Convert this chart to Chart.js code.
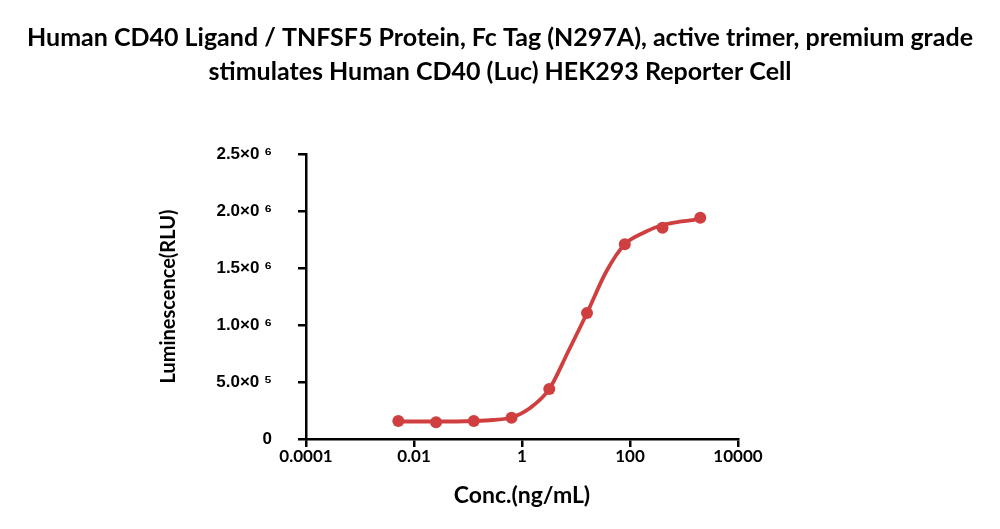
<!DOCTYPE html>
<html><head><meta charset="utf-8">
<script src="https://cdn.jsdelivr.net/npm/chart.js@4/dist/chart.umd.min.js"></script>
<style>html,body{margin:0;padding:0;background:#fff}#wrap{width:1000px;height:529px}</style>
</head><body><div id="wrap"><canvas id="c" width="1000" height="529"></canvas></div>
<script>
// measured points (ng/mL, RLU)
const concentrations = [0.00512, 0.0256, 0.128, 0.64, 3.2, 16, 80, 400, 2000];
const luminescence = [158000, 146000, 158000, 187000, 439000, 1105000, 1708000, 1853000, 1941000];
// fitted curve
const fitConc = [0.00512, 0.0256, 0.128, 0.29, 0.64, 1.41, 3.2, 7.1, 16, 36, 80, 190, 400, 906, 2000];
const fitLum = [153500, 153500, 158000, 166700, 188600, 272000, 438600, 763000, 1105000, 1465000, 1708000, 1816000, 1877000, 1908000, 1930000];
const xTickValues = [0.0001, 0.01, 1, 100, 10000];
const xTickLabels = ['0.0001', '0.01', '1', '100', '10000'];
const yTickValues = [0, 500000, 1000000, 1500000, 2000000, 2500000];
const yTickLabels = ['0', '5.0×0 ⁵', '1.0×0 ⁶', '1.5×0 ⁶', '2.0×0 ⁶', '2.5×0 ⁶'];
const titleLines = ['Human CD40 Ligand / TNFSF5 Protein, Fc Tag (N297A), active trimer, premium grade', 'stimulates Human CD40 (Luc) HEK293 Reporter Cell'];
const xTitle = 'Conc.(ng/mL)';
const yTitle = 'Luminescence(RLU)';

const RED = '#d03f3f';
const pts = concentrations.map((c, i) => ({x: c, y: luminescence[i]}));
const fit = fitConc.map((c, i) => ({x: c, y: fitLum[i]}));

new Chart(document.getElementById('c'), {
  type: 'scatter',
  data: {
    datasets: [
      {data: fit, showLine: true, borderColor: RED, borderWidth: 3.8, pointRadius: 0, cubicInterpolationMode: 'monotone', fill: false},
      {data: pts, showLine: false, backgroundColor: RED, borderColor: RED, pointRadius: 6, pointBorderWidth: 0}
    ]
  },
  options: {
    responsive: false, animation: false, devicePixelRatio: 1,
    layout: {padding: 0},
    plugins: {
      legend: {display: false}, tooltip: {enabled: false},
      title: {display: true, text: titleLines, color: '#000',
        font: {family: 'Lato', weight: 'bold', size: 25, lineHeight: 1.36},
        padding: {top: 21, bottom: 65}}
    },
    scales: {
      x: {
        type: 'logarithmic', min: 0.0001, max: 10000,
        afterBuildTicks: s => { s.ticks = xTickValues.map(v => ({value: v})); },
        afterFit: s => { s.height = 90; },
        ticks: {callback: (v, i) => xTickLabels[i], color: '#000', padding: -1,
          font: {family: 'Lato', weight: 'bold', size: 17}, maxRotation: 0, autoSkip: false},
        grid: {drawOnChartArea: false, drawTicks: true, tickLength: 8, color: '#000', lineWidth: 2.5},
        border: {display: true, color: '#000', width: 2.5},
        title: {display: true, text: xTitle, color: '#000',
          font: {family: 'Lato', weight: 'bold', size: 23}, padding: {top: 0, bottom: 19.2}}
      },
      y: {
        type: 'linear', min: 0, max: 2500000,
        afterBuildTicks: s => { s.ticks = yTickValues.map(v => ({value: v})); },
        afterFit: s => { s.width = 306; },
        ticks: {callback: (v, i) => yTickLabels[i], color: '#000', padding: 26,
          font: {family: 'Liberation Sans', weight: 'bold', size: 17}},
        grid: {drawOnChartArea: false, drawTicks: true, tickLength: 8, color: '#000', lineWidth: 2.5},
        border: {display: true, color: '#000', width: 2.5},
        title: {display: true, text: yTitle, color: '#000',
          font: {family: 'Lato', weight: 'bold', size: 20}, padding: {top: 157, bottom: 0}}
      },
      yRight: {
        type: 'linear', position: 'right', min: 0, max: 2500000, display: true,
        afterFit: s => { s.width = 262; },
        ticks: {display: false}, grid: {display: false}, border: {display: false}
      }
    }
  }
});
</script></body></html>
